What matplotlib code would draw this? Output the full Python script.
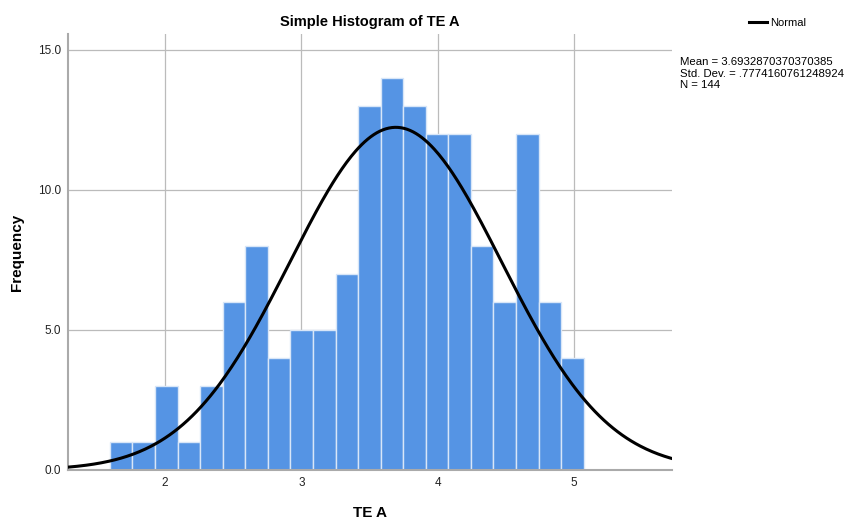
import matplotlib
matplotlib.use('Agg')
import matplotlib.pyplot as plt
from matplotlib.lines import Line2D
import numpy as np

# Data
counts = [1, 1, 3, 1, 3, 6, 8, 4, 5, 5, 7, 13, 14, 13, 12, 12, 8, 6, 12, 6, 4]
bin_start = 1.595
bin_width = 0.1656
mean = 3.6932870370370385
std = 0.7774160761248924
n = 144
x_ticks = [2, 3, 4, 5]
y_ticks = [0.0, 5.0, 10.0, 15.0]

plt.rcParams['font.family'] = ['Liberation Sans', 'DejaVu Sans']

fig = plt.figure(figsize=(8.46, 5.23), dpi=100)
ax = fig.add_axes([68 / 846, 53 / 523, 604 / 846, 436 / 523])

lefts = bin_start + bin_width * np.arange(len(counts))
ax.bar(lefts, counts, width=bin_width, align='edge', color='#5594E4',
       edgecolor='#D8E6F8', linewidth=1.0, zorder=2)

# Normal curve scaled to the histogram
xs = np.linspace(1.288, 5.72, 400)
ys = n * bin_width / (std * np.sqrt(2 * np.pi)) * np.exp(-0.5 * ((xs - mean) / std) ** 2)
ax.plot(xs, ys, color='black', linewidth=2.2, zorder=3)

ax.set_xlim(1.288, 5.72)
ax.set_ylim(0, 15.57)
ax.set_xticks(x_ticks)
ax.set_xticklabels([str(t) for t in x_ticks])
ax.set_yticks(y_ticks)
ax.set_yticklabels([f'{t:.1f}' for t in y_ticks])
ax.tick_params(axis='both', length=0, labelsize=8.5, colors='#222222', pad=5)
ax.grid(True, color='#BBBBBB', linewidth=0.9, zorder=0)
ax.set_axisbelow(True)

for s in ['top', 'right']:
    ax.spines[s].set_visible(False)
for s in ['left', 'bottom']:
    ax.spines[s].set_color('#AAAAAA')
    ax.spines[s].set_linewidth(1.5)

ax.set_title('Simple Histogram of TE A', fontsize=10.5, fontweight='bold', pad=6)
fig.text(370 / 846, 1 - 513 / 523, 'TE A', fontsize=11, fontweight='bold',
         ha='center', va='center')
fig.text(17 / 846, 1 - 252 / 523, 'Frequency', fontsize=11, fontweight='bold',
         ha='center', va='center', rotation=90)

# Legend
handle = Line2D([], [], color='black', linewidth=2.2)
fig.legend([handle], ['Normal'], loc='center left',
           bbox_to_anchor=(743 / 846, 1 - 23 / 523), frameon=False,
           fontsize=8, handlelength=1.7, handletextpad=0.2, borderpad=0)

fig.text(680 / 846, 1 - 57 / 523,
         f'Mean = {mean}\nStd. Dev. = {str(std)[1:]}\nN = {n}',
         fontsize=8.2, va='top', ha='left', linespacing=1.2)

plt.savefig('out.png', dpi=100)
